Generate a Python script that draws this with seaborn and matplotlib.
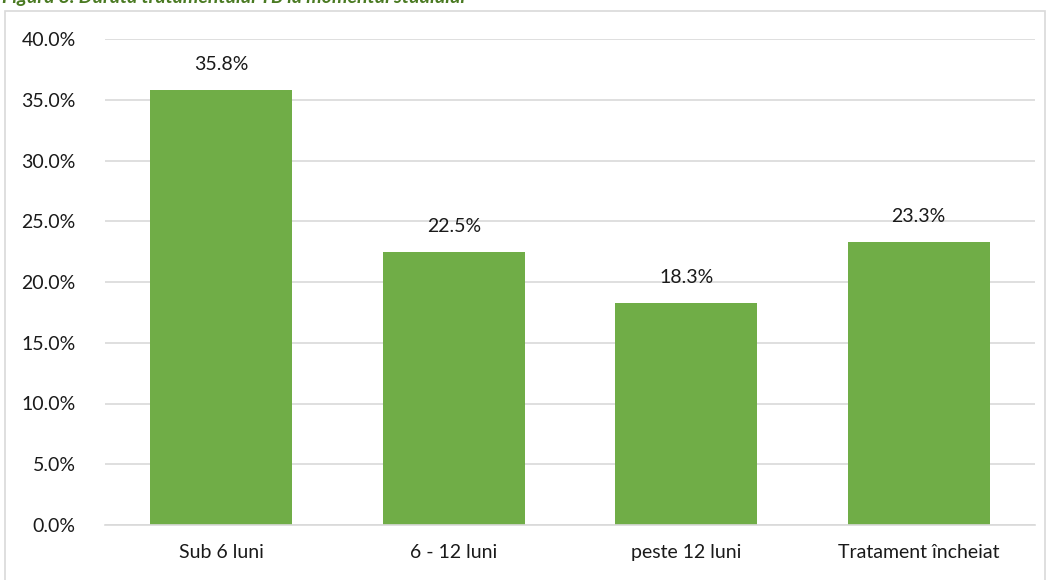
import matplotlib
matplotlib.use("Agg")
import matplotlib.pyplot as plt
import seaborn as sns
import pandas as pd
from matplotlib.patches import Rectangle
from matplotlib.ticker import FuncFormatter

categories = ["Sub 6 luni", "6 - 12 luni", "peste 12 luni", "Tratament încheiat"]
values = [35.8, 22.5, 18.3, 23.3]
title = "Figura 8. Durata tratamentului TB la momentul studiului"

sns.set_theme(style="white")
plt.rcParams['font.family'] = ['Lato', 'DejaVu Sans']

df = pd.DataFrame({"cat": categories, "val": values})

fig = plt.figure(figsize=(10.51, 5.8), dpi=100)
ax = fig.add_axes([105/1051, 55/580, 930/1051, (525-39)/580])

sns.barplot(data=df, x="cat", y="val", color="#70ad47", width=0.61, ax=ax,
            saturation=1, edgecolor="none")

ax.set_ylim(0, 40)
ax.set_xlim(-0.5, 3.5)
ax.set_yticks([0, 5, 10, 15, 20, 25, 30, 35, 40])
ax.yaxis.set_major_formatter(FuncFormatter(lambda v, p: f"{v:.1f}%"))
ax.grid(axis="y", color="#d9d9d9", linewidth=1.2)
ax.set_axisbelow(True)
for s in ["top", "right", "left"]:
    ax.spines[s].set_visible(False)
ax.spines["bottom"].set_color("#d9d9d9")
ax.spines["bottom"].set_linewidth(1.2)
ax.set_xlabel("")
ax.set_ylabel("")
ax.tick_params(axis="both", length=0, labelsize=14, colors="#1a1a1a")
ax.tick_params(axis="y", pad=21)
ax.tick_params(axis="x", pad=14)

for i, v in enumerate(values):
    ax.annotate(f"{v:.1f}%", (i, v), xytext=(0, 12), textcoords="offset points",
                ha="center", va="bottom", fontsize=14, color="#1a1a1a")

fig.patches.append(Rectangle((5/1051, -0.05), 1040/1051, 1.05 - 11/580,
                             transform=fig.transFigure, fill=False,
                             edgecolor="#d9d9d9", linewidth=1.2))

fig.text(2/1051, 1 - 6/580, title, ha="left", va="bottom", fontsize=14,
         fontweight="bold", fontstyle="italic", color="#4a7a22")

fig.savefig("out.png", dpi=100)
